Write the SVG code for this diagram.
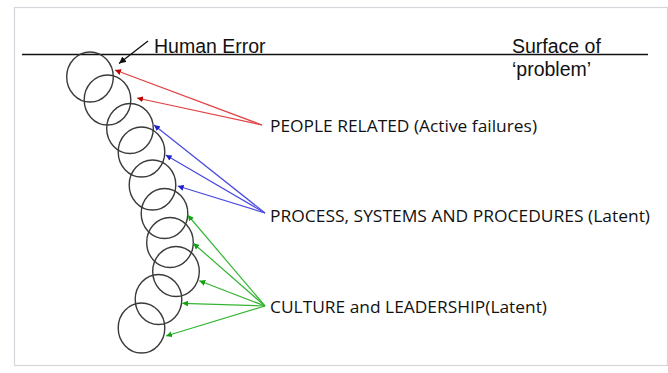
<svg xmlns="http://www.w3.org/2000/svg" width="668" height="373" viewBox="0 0 668 373">
<defs>
<style>
.c{fill:none;stroke:#3a3a3a;stroke-width:1.4}
.lbl{font-family:"Open Sans","Noto Sans",sans-serif;font-size:15.5px;fill:#111}
.ar{font-family:"Liberation Sans",Arial,sans-serif;font-size:19.5px;fill:#111}
.r{stroke:#e04444;stroke-width:1.2;fill:none;marker-end:url(#mr)}
.b{stroke:#4a4ae0;stroke-width:1.2;fill:none;marker-end:url(#mb)}
.g{stroke:#33b533;stroke-width:1.2;fill:none;marker-end:url(#mg)}
.k{stroke:#111;stroke-width:1.3;fill:none;marker-end:url(#mk)}
</style>
<marker id="mr" viewBox="0 0 10 10" refX="10" refY="5" markerWidth="6" markerHeight="6" markerUnits="userSpaceOnUse" orient="auto"><path d="M0,0L10,5L0,10z" fill="#c00000"/></marker>
<marker id="mb" viewBox="0 0 10 10" refX="10" refY="5" markerWidth="6" markerHeight="6" markerUnits="userSpaceOnUse" orient="auto"><path d="M0,0L10,5L0,10z" fill="#2020c8"/></marker>
<marker id="mg" viewBox="0 0 10 10" refX="10" refY="5" markerWidth="6" markerHeight="6" markerUnits="userSpaceOnUse" orient="auto"><path d="M0,0L10,5L0,10z" fill="#10a010"/></marker>
<marker id="mk" viewBox="0 0 10 10" refX="10" refY="5" markerWidth="7" markerHeight="7" markerUnits="userSpaceOnUse" orient="auto"><path d="M0,0L10,5L0,10z" fill="#111"/></marker>
</defs>
<rect x="0" y="0" width="668" height="373" fill="#fff"/>
<rect x="14.5" y="7.5" width="653" height="358" fill="none" stroke="#d3d6da" stroke-width="1.2"/>
<line x1="22" y1="54.5" x2="648" y2="54.5" stroke="#111" stroke-width="1.3"/>
<g id="circles">
<ellipse class="c" cx="90" cy="77" rx="23.3" ry="25"/>
<ellipse class="c" cx="107.5" cy="100" rx="23.3" ry="25"/>
<ellipse class="c" cx="130" cy="128.5" rx="23.3" ry="25"/>
<ellipse class="c" cx="141.5" cy="152" rx="23.3" ry="25"/>
<ellipse class="c" cx="152.5" cy="185" rx="23.3" ry="25"/>
<ellipse class="c" cx="164.5" cy="213.5" rx="23.3" ry="25"/>
<ellipse class="c" cx="170" cy="242.5" rx="23.3" ry="25"/>
<ellipse class="c" cx="176" cy="271.5" rx="23.3" ry="25"/>
<ellipse class="c" cx="158.5" cy="299.5" rx="23.3" ry="25"/>
<ellipse class="c" cx="141.5" cy="328" rx="23.3" ry="25"/>
</g>
<g id="human-error">
<text class="ar" x="154" y="53">Human Error</text>
</g>
<g id="surface">
<text class="ar" x="512" y="53">Surface of</text>
<text class="ar" x="512" y="76">‘problem’</text>
</g>
<g id="people">
<text class="lbl" x="270" y="132" textLength="267" lengthAdjust="spacingAndGlyphs">PEOPLE RELATED (Active failures)</text>
</g>
<g id="process">
<text class="lbl" x="270" y="222" textLength="380" lengthAdjust="spacingAndGlyphs">PROCESS, SYSTEMS AND PROCEDURES (Latent)</text>
</g>
<g id="culture">
<text class="lbl" x="270" y="313" textLength="277" lengthAdjust="spacingAndGlyphs">CULTURE and LEADERSHIP(Latent)</text>
</g>
<g id="connectors">
<line class="k" x1="148" y1="41" x2="119" y2="63.5"/>
<line class="r" x1="262" y1="125" x2="115" y2="70"/>
<line class="r" x1="262" y1="125" x2="137" y2="98"/>
<line class="b" x1="265" y1="213" x2="154" y2="125"/>
<line class="b" x1="265" y1="213" x2="165.7" y2="155"/>
<line class="b" x1="265" y1="213" x2="177.7" y2="186"/>
<line class="g" x1="265" y1="306" x2="187.7" y2="215"/>
<line class="g" x1="265" y1="306" x2="193.3" y2="243.3"/>
<line class="g" x1="265" y1="306" x2="199.3" y2="280.7"/>
<line class="g" x1="265" y1="306" x2="182.3" y2="303.3"/>
<line class="g" x1="265" y1="306" x2="166" y2="336"/>
</g>
</svg>
